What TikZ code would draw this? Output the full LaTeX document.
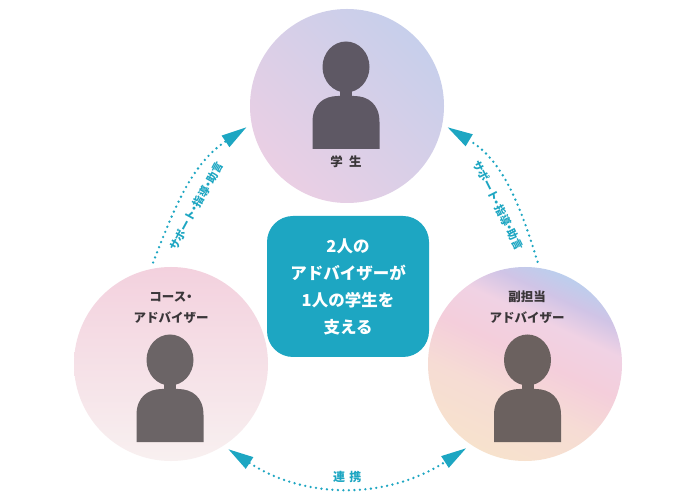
\documentclass[tikz,border=0pt]{standalone}
\usepackage{fontspec}
\setmainfont{Noto Sans CJK JP}
\usetikzlibrary{positioning, arrows.meta}
\definecolor{adTeal}{RGB}{29,166,194}
\definecolor{adInk}{RGB}{58,54,57}
\definecolor{studentPink}{RGB}{234,207,228}
\definecolor{studentBlue}{RGB}{199,207,235}
\definecolor{courseTop}{RGB}{243,209,222}
\definecolor{courseBottom}{RGB}{248,240,240}
\definecolor{vicePeach}{RGB}{247,226,205}
\definecolor{vicePeachPink}{RGB}{246,220,212}
\definecolor{vicePink}{RGB}{244,206,219}
\definecolor{vicePinkLight}{RGB}{240,210,228}
\definecolor{viceLav}{RGB}{208,196,230}
\definecolor{viceBlue}{RGB}{188,206,237}
\definecolor{personTop}{RGB}{94,88,100}
\definecolor{personCourse}{RGB}{107,100,102}
\definecolor{personVice}{RGB}{107,97,95}
\newcommand{\nakaguro}{\makebox[0.5em]{・}}
\pgfdeclareverticalshading{viceShade}{100bp}{color(0bp)=(vicePeach); color(25bp)=(vicePeach); color(40bp)=(vicePeachPink); color(52bp)=(vicePink); color(62bp)=(vicePinkLight); color(69bp)=(viceLav); color(75bp)=(viceBlue); color(100bp)=(viceBlue)}
\tikzset{
  member/.style={circle, minimum size=194pt, inner sep=0pt, outer sep=6pt},
  rolelabel/.style={text=adInk, font=\bfseries\fontsize{12.5}{21}\selectfont, align=center},
  support/.style={adTeal, line width=2.6pt, dash pattern=on 0pt off 5.5pt, line cap=round},
  supportlabel/.style={text=adTeal, font=\bfseries\fontsize{11}{13}\selectfont},
  >={Triangle[length=25pt, width=14pt, line width=0pt]},
  pics/person/.style={code={
    \fill[pic actions] (0,29) ellipse [x radius=23.5, y radius=25.5];
    \fill[pic actions] (-6,-1) rectangle (6,8);
    \fill[pic actions] (-33.5,-53) -- (-33.5,-26) .. controls (-33.5,-8) and (-22,0) .. (-8,0)
      -- (8,0) .. controls (22,0) and (33.5,-8) .. (33.5,-26) -- (33.5,-53) -- cycle;
  }}
}

\begin{document}
\begin{tikzpicture}[x=1pt, y=1pt]
  \path[use as bounding box, fill=white] (0,0) rectangle (700,500);

  % three members
  \node[member, shade, top color=studentBlue, bottom color=studentPink, shading angle=-45] (student) at (347,394) {};
  \node[member, shade, top color=courseTop, bottom color=courseBottom] (course) at (171,136) {};
  \node[member, shade, shading=viceShade, shading angle=-25] (vice) at (525,136) {};

  \pic[fill=personTop] (studentFig) at (346,404) {person};
  \pic[fill=personCourse] (courseFig) at (170,111) {person};
  \pic[fill=personVice] (viceFig) at (527.5,111) {person};

  \node[rolelabel] (studentName) at (346,338) {学\hspace{0.5em}生};
  \node[rolelabel] (courseName) at (171,192.5) {コース\nakaguro\\アドバイザー};
  \node[rolelabel] (viceName) at (527,192.5) {副担当\\アドバイザー};

  % centre message
  \node[fill=adTeal, rounded corners=26pt, minimum width=162pt, minimum height=141pt, text=white,
    font=\bfseries\fontsize{16.5}{27}\selectfont, align=center] (shared) at (348,213.5)
    {2人の\\アドバイザーが\\1人の学生を\\支える};

  % connectors
  \draw[support, ->] (course.100) to[out=69, in=214]
    node[supportlabel, sloped, pos=0.41, below=7pt] (courseHelp) {サポート\nakaguro 指導\nakaguro 助言} (student.192);
  \draw[support, ->] (vice.83) to[out=107, in=-31]
    node[supportlabel, sloped, pos=0.40, below=7pt] (viceHelp) {サポート\nakaguro 指導\nakaguro 助言} (student.-12);
  \draw[support, <->] (course.-56) to[out=-33, in=213]
    node[supportlabel, above, font=\bfseries\fontsize{12}{14}\selectfont] (linkLabel) {連\hspace{0.35em}携} (vice.-125);
\end{tikzpicture}
\end{document}
